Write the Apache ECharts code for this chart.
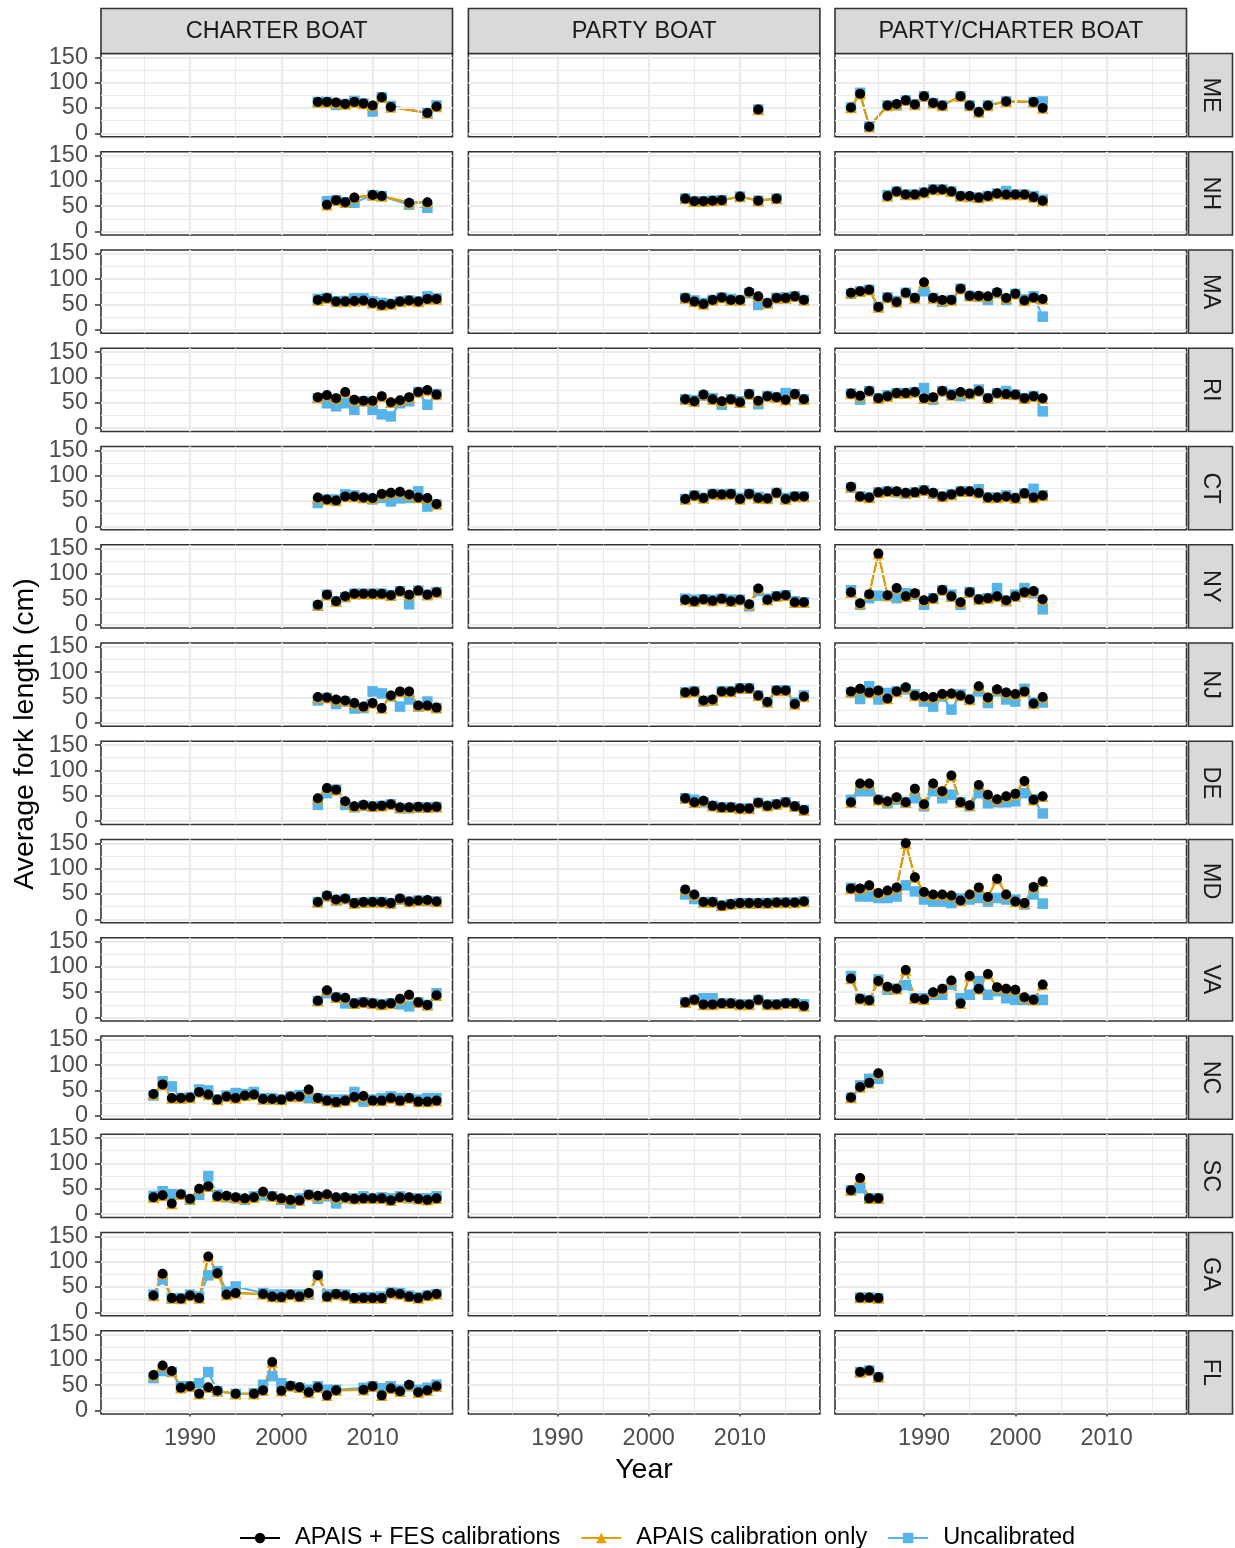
<!DOCTYPE html>
<html><head><meta charset="utf-8">
<script src="https://cdn.jsdelivr.net/npm/echarts@6.0.0/dist/echarts.min.js"></script>
<style>html,body{margin:0;padding:0;background:#fff}#c{width:1235px;height:1548px}</style>
</head><body><div id="c"></div>
<script>
const states = ['ME','NH','MA','RI','CT','NY','NJ','DE','MD','VA','NC','SC','GA','FL'];
const modes = ['CHARTER BOAT','PARTY BOAT','PARTY/CHARTER BOAT'];
const seriesNames = ['APAIS + FES calibrations','APAIS calibration only','Uncalibrated'];
const xTickVals = [1990,2000,2010];
const xMinorVals = [1985,1995,2005,2015];
const yTickVals = [0,50,100,150];
const yMinorVals = [25,75,125];

// ---------- CHARTER BOAT ----------
const cb_ME_year = [2004,2005,2006,2007,2008,2009,2010,2011,2012,2016,2017];
const cb_ME_fes = [62,62,61,58,62,59,55,71,52,40,53];
const cb_ME_apais = [62,62,61,58,62,59,55,71,52,40,53];
const cb_ME_unc = [62,62,56,58,64,59,43,71,54,40,55];
const cb_NH_year = [2005,2006,2007,2008,2010,2011,2014,2016];
const cb_NH_fes = [53,62,58,67,72,70,57,58];
const cb_NH_apais = [53,62,58,67,72,70,57,58];
const cb_NH_unc = [60,62,58,57,72,70,53,47];
const cb_yr14 = [2004,2005,2006,2007,2008,2009,2010,2011,2012,2013,2014,2015,2016,2017];
const cb_MA_fes = [59,63,56,56,57,58,53,49,51,56,58,56,61,61];
const cb_MA_apais = [59,63,56,56,57,58,53,49,51,56,58,56,61,61];
const cb_MA_unc = [61,63,56,57,62,62,56,53,51,56,58,56,66,62];
const cb_RI_fes = [61,65,59,71,56,54,54,63,51,55,61,71,75,66];
const cb_RI_apais = [61,65,59,71,56,54,54,63,51,55,61,71,75,66];
const cb_RI_unc = [59,49,43,49,36,53,36,27,23,49,53,71,46,67];
const cb_CT_fes = [57,53,51,59,59,57,56,64,66,68,63,57,56,44];
const cb_CT_apais = [57,53,51,59,59,57,56,64,66,68,63,57,56,44];
const cb_CT_unc = [46,53,53,63,61,56,53,56,49,55,56,69,39,43];
const cb_NY_fes = [39,59,46,56,61,61,61,61,58,66,59,67,59,64];
const cb_NY_apais = [39,59,46,56,61,61,61,61,58,66,59,67,59,64];
const cb_NY_unc = [37,59,46,54,61,61,61,61,58,66,40,67,59,64];
const cb_NJ_fes = [51,50,46,44,39,32,39,29,54,62,62,34,34,30];
const cb_NJ_apais = [51,50,46,44,39,32,39,29,54,62,62,34,34,30];
const cb_NJ_unc = [44,49,37,42,28,29,62,58,52,32,46,32,42,29];
const cb_DE_fes = [45,65,62,39,29,32,29,30,33,27,27,28,27,28];
const cb_DE_apais = [45,65,62,39,29,32,29,30,33,27,27,28,27,28];
const cb_DE_unc = [32,55,62,32,27,30,29,30,33,25,25,27,27,28];
const cb_MD_fes = [34,47,39,41,32,34,34,34,32,41,35,37,38,35];
const cb_MD_apais = [34,47,39,41,32,34,34,34,32,41,35,37,38,35];
const cb_MD_unc = [34,45,37,40,32,33,34,34,32,39,35,37,36,35];
const cb_VA_fes = [33,54,40,39,28,30,28,26,28,37,45,30,25,44];
const cb_VA_apais = [33,54,40,39,28,30,28,26,28,37,45,30,25,44];
const cb_VA_unc = [33,48,40,28,28,30,28,26,28,26,22,30,25,48];
const cb_yr32 = [1986,1987,1988,1989,1990,1991,1992,1993,1994,1995,1996,1997,1998,1999,2000,2001,2002,2003,2004,2005,2006,2007,2008,2009,2010,2011,2012,2013,2014,2015,2016,2017];
const cb_NC_fes = [43,62,35,35,36,47,42,32,38,35,40,42,33,33,32,38,38,52,35,30,27,30,37,39,30,30,35,30,35,28,28,30];
const cb_NC_apais = [43,62,35,35,36,47,42,32,38,35,40,42,33,33,32,38,38,52,35,30,27,30,37,39,30,30,35,30,35,28,28,30];
const cb_NC_unc = [40,68,58,35,36,52,50,32,40,45,43,47,35,35,32,38,41,35,35,32,32,32,47,28,32,35,38,35,35,32,35,35];
const cb_SC_fes = [33,37,21,39,30,50,55,35,36,33,31,33,44,35,31,28,27,38,36,39,33,33,30,31,31,31,27,33,33,30,28,31];
const cb_SC_apais = [33,37,21,39,30,50,55,35,36,33,31,33,44,35,31,28,27,38,36,39,33,33,30,31,31,31,27,33,33,30,28,31];
const cb_SC_unc = [36,45,39,38,28,38,75,38,33,31,28,35,37,35,28,21,31,38,30,35,21,31,31,35,31,33,31,35,31,31,31,35];
const cb_GA_year = [1986,1987,1988,1989,1990,1991,1992,1993,1994,1995,1998,1999,2000,2001,2002,2003,2004,2005,2006,2007,2008,2009,2010,2011,2012,2013,2014,2015,2016,2017];
const cb_GA_fes = [33,76,28,27,33,28,110,77,35,38,36,31,30,35,31,38,73,31,36,33,28,28,28,28,38,36,31,28,33,36];
const cb_GA_apais = [33,76,28,27,33,28,110,77,35,38,36,31,30,35,31,38,73,31,36,33,28,28,28,28,38,36,31,28,33,36];
const cb_GA_unc = [35,65,28,28,35,31,73,81,41,51,38,35,35,35,35,35,73,35,36,35,28,30,30,31,39,38,33,30,33,36];
const cb_FL_year = [1986,1987,1988,1989,1990,1991,1992,1993,1995,1997,1998,1999,2000,2001,2002,2003,2004,2005,2006,2009,2010,2011,2012,2013,2014,2015,2016,2017];
const cb_FL_fes = [70,89,78,45,48,33,46,39,33,33,40,96,39,49,46,36,46,30,40,41,48,30,44,38,51,36,40,48];
const cb_FL_apais = [70,89,78,45,48,33,46,39,33,33,40,96,39,49,46,36,46,30,40,41,48,30,44,38,51,36,40,48];
const cb_FL_unc = [64,78,76,48,48,54,76,38,33,34,51,68,54,48,45,41,48,41,41,45,48,44,48,41,48,41,45,51];

// ---------- PARTY BOAT ----------
const pb_ME_year = [2012];
const pb_ME_fes = [47];
const pb_ME_apais = [47];
const pb_ME_unc = [47];
const pb_NH_year = [2004,2005,2006,2007,2008,2010,2012,2014];
const pb_NH_fes = [65,60,60,61,62,69,61,65];
const pb_NH_apais = [65,60,60,61,62,69,61,65];
const pb_NH_unc = [65,60,60,61,62,69,61,65];
const pb_yr14 = [2004,2005,2006,2007,2008,2009,2010,2011,2012,2013,2014,2015,2016,2017];
const pb_MA_fes = [63,56,51,59,64,59,59,75,66,53,63,63,66,59];
const pb_MA_apais = [63,56,51,59,64,59,59,75,66,53,63,63,66,59];
const pb_MA_unc = [63,58,53,59,64,61,59,72,49,53,63,64,66,59];
const pb_RI_fes = [57,53,66,57,53,57,51,67,54,63,61,56,67,57];
const pb_RI_apais = [57,53,66,57,53,57,51,67,54,63,61,56,67,57];
const pb_RI_unc = [57,55,64,59,46,57,53,67,47,63,61,69,67,57];
const pb_CT_fes = [54,61,56,64,63,64,54,64,56,55,66,54,59,59];
const pb_CT_apais = [54,61,56,64,63,64,54,64,56,55,66,54,59,59];
const pb_CT_unc = [54,61,56,64,63,64,56,64,58,55,66,56,59,59];
const pb_NY_fes = [49,46,50,47,51,46,49,40,71,49,56,58,44,44];
const pb_NY_apais = [49,46,50,47,51,46,49,40,71,49,56,58,44,44];
const pb_NY_unc = [51,49,50,49,51,49,49,36,66,51,56,58,46,44];
const pb_NJ_fes = [60,62,44,46,62,62,68,68,54,41,64,64,37,52];
const pb_NJ_apais = [60,62,44,46,62,62,68,68,54,41,64,64,37,52];
const pb_NJ_unc = [60,62,42,44,62,62,68,68,54,41,64,64,40,54];
const pb_DE_fes = [45,37,40,30,27,27,25,25,36,30,33,37,29,22];
const pb_DE_apais = [45,37,40,30,27,27,25,25,36,30,33,37,29,22];
const pb_DE_unc = [45,42,37,30,27,27,25,25,36,30,33,37,29,22];
const pb_MD_fes = [59,49,34,34,27,30,32,32,32,32,33,33,33,35];
const pb_MD_apais = [59,49,34,34,27,30,32,32,32,32,33,33,33,35];
const pb_MD_unc = [49,40,34,34,27,30,32,32,32,32,33,33,33,35];
const pb_VA_fes = [30,35,26,26,28,28,26,26,35,26,26,28,28,23];
const pb_VA_apais = [30,35,26,26,28,28,26,26,35,26,26,28,28,23];
const pb_VA_unc = [30,35,38,38,28,28,26,26,35,26,26,28,28,26];

// ---------- PARTY/CHARTER BOAT ----------
const pc_ME_year = [1982,1983,1984,1986,1987,1988,1989,1990,1991,1992,1994,1995,1996,1997,1999,2002,2003];
const pc_ME_fes = [51,78,13,55,58,65,57,73,60,55,73,55,42,55,63,62,50];
const pc_ME_apais = [51,78,13,55,58,65,57,73,60,55,73,55,42,55,63,62,50];
const pc_ME_unc = [51,80,13,55,55,65,57,73,60,55,73,55,42,55,63,62,63];
const pc_NH_year = [1986,1987,1988,1989,1990,1991,1992,1993,1994,1995,1996,1997,1998,1999,2000,2001,2002,2003];
const pc_NH_fes = [70,79,73,73,77,83,83,79,70,70,67,70,75,73,73,73,68,61];
const pc_NH_apais = [70,79,73,73,77,83,83,79,70,70,67,70,75,73,73,73,68,61];
const pc_NH_unc = [72,79,73,73,77,83,83,79,70,68,67,70,75,80,73,73,70,63];
const pc_yr22 = [1982,1983,1984,1985,1986,1987,1988,1989,1990,1991,1992,1993,1994,1995,1996,1997,1998,1999,2000,2001,2002,2003];
const pc_MA_fes = [73,76,79,45,64,55,73,63,94,63,59,59,81,67,67,66,74,63,71,58,64,61];
const pc_MA_apais = [73,76,79,45,64,55,73,63,94,63,59,59,81,67,67,66,74,63,71,58,64,61];
const pc_MA_unc = [71,76,79,45,64,57,73,63,76,63,55,59,81,67,65,59,72,59,71,60,66,26];
const pc_RI_fes = [68,64,73,59,63,69,69,71,59,61,73,65,71,68,73,59,69,67,66,59,63,59];
const pc_RI_apais = [68,64,73,59,63,69,69,71,59,61,73,65,71,68,73,59,69,67,66,59,63,59];
const pc_RI_unc = [68,56,73,59,65,69,69,71,79,56,73,67,63,67,76,59,69,73,66,59,63,33];
const pc_CT_fes = [78,59,57,67,69,69,66,67,71,66,59,63,69,69,66,57,57,59,56,65,57,61];
const pc_CT_apais = [78,59,57,67,69,69,66,67,71,66,59,63,69,69,66,57,57,59,56,65,57,61];
const pc_CT_unc = [76,59,57,67,69,67,64,67,71,64,59,63,69,69,73,57,57,61,56,65,74,61];
const pc_NY_fes = [64,42,60,140,58,72,56,62,48,52,68,56,44,64,50,52,56,48,56,64,66,50];
const pc_NY_apais = [64,42,60,140,58,72,56,62,48,52,68,56,44,64,50,52,56,48,56,64,66,50];
const pc_NY_unc = [68,39,52,57,56,52,62,59,39,52,68,59,39,64,50,52,72,46,59,72,62,30];
const pc_NJ_fes = [62,67,60,64,48,62,70,54,52,51,57,58,54,46,72,50,66,60,57,62,38,51];
const pc_NJ_apais = [62,67,60,64,48,62,70,54,52,51,57,58,54,46,72,50,66,60,57,62,38,51];
const pc_NJ_unc = [60,47,72,46,59,62,66,56,42,32,52,26,56,46,62,39,62,46,42,67,40,40];
const pc_DE_fes = [37,74,74,42,39,47,37,64,33,74,59,90,37,31,71,52,43,49,54,79,42,49];
const pc_DE_apais = [37,74,74,42,39,47,37,64,33,74,59,90,37,31,71,52,43,49,54,79,42,49];
const pc_DE_unc = [42,59,59,42,35,42,37,45,29,59,45,52,37,29,55,35,37,37,39,55,43,15];
const pc_MD_fes = [61,61,67,52,57,63,150,83,54,49,49,47,37,49,63,44,80,49,35,32,64,75];
const pc_MD_apais = [61,61,67,52,57,63,150,83,54,49,49,47,37,49,63,44,80,49,35,32,64,75];
const pc_MD_unc = [62,45,45,42,42,45,67,55,39,35,35,32,41,39,42,35,42,39,39,29,49,31];
const pc_VA_fes = [77,37,34,72,61,57,94,38,36,50,57,73,28,82,57,86,60,57,55,40,35,65];
const pc_VA_apais = [77,37,34,72,61,57,94,38,36,50,57,73,28,82,57,86,60,57,55,40,35,65];
const pc_VA_unc = [82,37,34,75,55,57,64,38,38,45,45,65,38,45,72,45,52,38,35,35,35,35];
const pc_NC_year = [1982,1983,1984,1985];
const pc_NC_fes = [36,57,65,84];
const pc_NC_apais = [36,57,65,84];
const pc_NC_unc = [36,60,73,73];
const pc_SC_year = [1982,1983,1984,1985];
const pc_SC_fes = [47,71,31,31];
const pc_SC_apais = [47,71,31,31];
const pc_SC_unc = [47,51,31,31];
const pc_GA_year = [1983,1984,1985];
const pc_GA_fes = [29,29,28];
const pc_GA_apais = [29,29,28];
const pc_GA_unc = [29,29,28];
const pc_FL_year = [1983,1984,1985];
const pc_FL_fes = [76,79,66];
const pc_FL_apais = [76,79,66];
const pc_FL_unc = [76,79,66];

const panelArrays = {
  'CHARTER BOAT': {
    ME:[cb_ME_year,cb_ME_fes,cb_ME_apais,cb_ME_unc], NH:[cb_NH_year,cb_NH_fes,cb_NH_apais,cb_NH_unc],
    MA:[cb_yr14,cb_MA_fes,cb_MA_apais,cb_MA_unc], RI:[cb_yr14,cb_RI_fes,cb_RI_apais,cb_RI_unc],
    CT:[cb_yr14,cb_CT_fes,cb_CT_apais,cb_CT_unc], NY:[cb_yr14,cb_NY_fes,cb_NY_apais,cb_NY_unc],
    NJ:[cb_yr14,cb_NJ_fes,cb_NJ_apais,cb_NJ_unc], DE:[cb_yr14,cb_DE_fes,cb_DE_apais,cb_DE_unc],
    MD:[cb_yr14,cb_MD_fes,cb_MD_apais,cb_MD_unc], VA:[cb_yr14,cb_VA_fes,cb_VA_apais,cb_VA_unc],
    NC:[cb_yr32,cb_NC_fes,cb_NC_apais,cb_NC_unc], SC:[cb_yr32,cb_SC_fes,cb_SC_apais,cb_SC_unc],
    GA:[cb_GA_year,cb_GA_fes,cb_GA_apais,cb_GA_unc], FL:[cb_FL_year,cb_FL_fes,cb_FL_apais,cb_FL_unc]
  },
  'PARTY BOAT': {
    ME:[pb_ME_year,pb_ME_fes,pb_ME_apais,pb_ME_unc], NH:[pb_NH_year,pb_NH_fes,pb_NH_apais,pb_NH_unc],
    MA:[pb_yr14,pb_MA_fes,pb_MA_apais,pb_MA_unc], RI:[pb_yr14,pb_RI_fes,pb_RI_apais,pb_RI_unc],
    CT:[pb_yr14,pb_CT_fes,pb_CT_apais,pb_CT_unc], NY:[pb_yr14,pb_NY_fes,pb_NY_apais,pb_NY_unc],
    NJ:[pb_yr14,pb_NJ_fes,pb_NJ_apais,pb_NJ_unc], DE:[pb_yr14,pb_DE_fes,pb_DE_apais,pb_DE_unc],
    MD:[pb_yr14,pb_MD_fes,pb_MD_apais,pb_MD_unc], VA:[pb_yr14,pb_VA_fes,pb_VA_apais,pb_VA_unc]
  },
  'PARTY/CHARTER BOAT': {
    ME:[pc_ME_year,pc_ME_fes,pc_ME_apais,pc_ME_unc], NH:[pc_NH_year,pc_NH_fes,pc_NH_apais,pc_NH_unc],
    MA:[pc_yr22,pc_MA_fes,pc_MA_apais,pc_MA_unc], RI:[pc_yr22,pc_RI_fes,pc_RI_apais,pc_RI_unc],
    CT:[pc_yr22,pc_CT_fes,pc_CT_apais,pc_CT_unc], NY:[pc_yr22,pc_NY_fes,pc_NY_apais,pc_NY_unc],
    NJ:[pc_yr22,pc_NJ_fes,pc_NJ_apais,pc_NJ_unc], DE:[pc_yr22,pc_DE_fes,pc_DE_apais,pc_DE_unc],
    MD:[pc_yr22,pc_MD_fes,pc_MD_apais,pc_MD_unc], VA:[pc_yr22,pc_VA_fes,pc_VA_apais,pc_VA_unc],
    NC:[pc_NC_year,pc_NC_fes,pc_NC_apais,pc_NC_unc], SC:[pc_SC_year,pc_SC_fes,pc_SC_apais,pc_SC_unc],
    GA:[pc_GA_year,pc_GA_fes,pc_GA_apais,pc_GA_unc], FL:[pc_FL_year,pc_FL_fes,pc_FL_apais,pc_FL_unc]
  }
};

// ---------- layout ----------
const FONT = '"Liberation Sans", Arial, Helvetica, sans-serif';
const FS = 23.5;
const colLeft = [101, 468.4, 835];
const panelW = 351.5;
const rowTop0 = 53.5, rowStep = 98.25, panelH = 83.2;
const X_MIN = 1980.25, X_MAX = 2018.75, Y_MIN = -6.7, Y_MAX = 157.5;
// [name index, color, symbol, symbolSize, line width, pd index]
const STY = {
  fes:   {name: seriesNames[0], color: '#000000', symbol: 'circle',   size: 10,   lw: 1.5, k: 1},
  apais: {name: seriesNames[1], color: '#E69F00', symbol: 'triangle', size: 11.5, lw: 2.2, k: 2},
  unc:   {name: seriesNames[2], color: '#56B4E9', symbol: 'rect',     size: 10.5, lw: 2.2, k: 3}
};
const LINE_Z = {fes: 2, unc: 3, apais: 4};
const PT_Z = {unc: 5, apais: 6, fes: 7};

const grids = [], xAxes = [], yAxes = [], series = [], graphics = [];
const fmt = v => String(v);

for (let r = 0; r < states.length; r++) {
  for (let c = 0; c < modes.length; c++) {
    const idx = grids.length;
    const top = rowTop0 + r * rowStep;
    grids.push({left: colLeft[c], top: top, width: panelW, height: panelH,
      show: true, borderColor: '#333333', borderWidth: 1.6, backgroundColor: '#ffffff',
      containLabel: false, outerBoundsMode: 'none'});
    const bottomRow = (r === states.length - 1);
    xAxes.push({gridIndex: idx, type: 'value', min: X_MIN, max: X_MAX,
      axisLine: {show: false}, splitLine: {show: false},
      axisTick: {show: bottomRow, customValues: xTickVals, length: 6, lineStyle: {color: '#333333', width: 1.5}},
      axisLabel: {show: bottomRow, customValues: xTickVals, formatter: fmt, color: '#4D4D4D', fontSize: FS, margin: 13, fontFamily: FONT}});
    yAxes.push({gridIndex: idx, type: 'value', min: Y_MIN, max: Y_MAX,
      axisLine: {show: false}, splitLine: {show: false},
      axisTick: {show: c === 0, customValues: yTickVals, length: 6, lineStyle: {color: '#333333', width: 1.5}},
      axisLabel: {show: c === 0, customValues: yTickVals, formatter: fmt, color: '#4D4D4D', fontSize: FS, margin: 13, fontFamily: FONT}});
    const ml = [];
    xMinorVals.forEach(v => ml.push({xAxis: v, lineStyle: {color: '#EBEBEB', width: 1.1, type: 'solid'}}));
    yMinorVals.forEach(v => ml.push({yAxis: v, lineStyle: {color: '#EBEBEB', width: 1.1, type: 'solid'}}));
    xTickVals.forEach(v => ml.push({xAxis: v, lineStyle: {color: '#EBEBEB', width: 2.2, type: 'solid'}}));
    yTickVals.forEach(v => ml.push({yAxis: v, lineStyle: {color: '#EBEBEB', width: 2.2, type: 'solid'}}));
    series.push({type: 'line', name: '_grid', xAxisIndex: idx, yAxisIndex: idx, data: [[2000, 50]],
      symbol: 'none', lineStyle: {opacity: 0}, silent: true, z: 1, animation: false,
      markLine: {silent: true, symbol: ['none', 'none'], label: {show: false}, animation: false, data: ml}});
    const pd = panelArrays[modes[c]][states[r]];
    if (pd) {
      const yrs = pd[0];
      const mk = (arr) => yrs.map((y, i) => [y, arr[i]]);
      ['fes', 'unc', 'apais'].forEach(key => {
        const s = STY[key];
        series.push({type: 'line', name: s.name, xAxisIndex: idx, yAxisIndex: idx, data: mk(pd[s.k]),
          symbol: s.symbol, symbolSize: s.size, showSymbol: false,
          itemStyle: {color: s.color}, lineStyle: {color: s.color, width: s.lw},
          z: LINE_Z[key], animation: false, silent: true, emphasis: {disabled: true}});
      });
      ['unc', 'apais', 'fes'].forEach(key => {
        const s = STY[key];
        series.push({type: 'scatter', name: s.name, xAxisIndex: idx, yAxisIndex: idx, data: mk(pd[s.k]),
          symbol: s.symbol, symbolSize: s.size, itemStyle: {color: s.color, opacity: 1},
          z: PT_Z[key], animation: false, silent: true, emphasis: {disabled: true}});
      });
    }
  }
  const top = rowTop0 + r * rowStep;
  graphics.push({type: 'rect', shape: {x: 1188.5, y: top, width: 44, height: panelH},
    style: {fill: '#D9D9D9', stroke: '#333333', lineWidth: 1.6}, z: 10});
  graphics.push({type: 'text', x: 1210.5, y: top + panelH / 2, rotation: -Math.PI / 2,
    style: {text: states[r], x: 0, y: 0, align: 'center', verticalAlign: 'middle', textAlign: 'center', textVerticalAlign: 'middle',
      fontSize: FS, fontFamily: FONT, fill: '#1A1A1A'}, z: 11});
}
for (let c = 0; c < modes.length; c++) {
  graphics.push({type: 'rect', shape: {x: colLeft[c], y: 8.5, width: panelW, height: 45},
    style: {fill: '#D9D9D9', stroke: '#333333', lineWidth: 1.6}, z: 10});
  graphics.push({type: 'text', x: colLeft[c] + panelW / 2, y: 32,
    style: {text: modes[c], x: 0, y: 0, align: 'center', verticalAlign: 'middle', textAlign: 'center', textVerticalAlign: 'middle',
      fontSize: FS, fontFamily: FONT, fill: '#1A1A1A'}, z: 11});
}
graphics.push({type: 'text', x: 644, y: 1470,
  style: {text: 'Year', x: 0, y: 0, align: 'center', verticalAlign: 'middle', textAlign: 'center', textVerticalAlign: 'middle',
    fontSize: 28.5, fontFamily: FONT, fill: '#000000'}, z: 11});
graphics.push({type: 'text', x: 25, y: 734, rotation: Math.PI / 2,
  style: {text: 'Average fork length (cm)', x: 0, y: 0, align: 'center', verticalAlign: 'middle', textAlign: 'center', textVerticalAlign: 'middle',
    fontSize: 28.5, fontFamily: FONT, fill: '#000000'}, z: 11});

const chart = echarts.init(document.getElementById('c'), null, {renderer: 'canvas'});
chart.setOption({
  animation: false,
  backgroundColor: '#ffffff',
  grid: grids, xAxis: xAxes, yAxis: yAxes, series: series,
  legend: {data: seriesNames, left: 234, top: 1521, itemWidth: 40, itemHeight: 13, itemGap: 20,
    textStyle: {fontSize: FS, color: '#000000', fontFamily: FONT, padding: [0, 0, 0, 10]}},
  graphic: graphics
});
</script></body></html>
